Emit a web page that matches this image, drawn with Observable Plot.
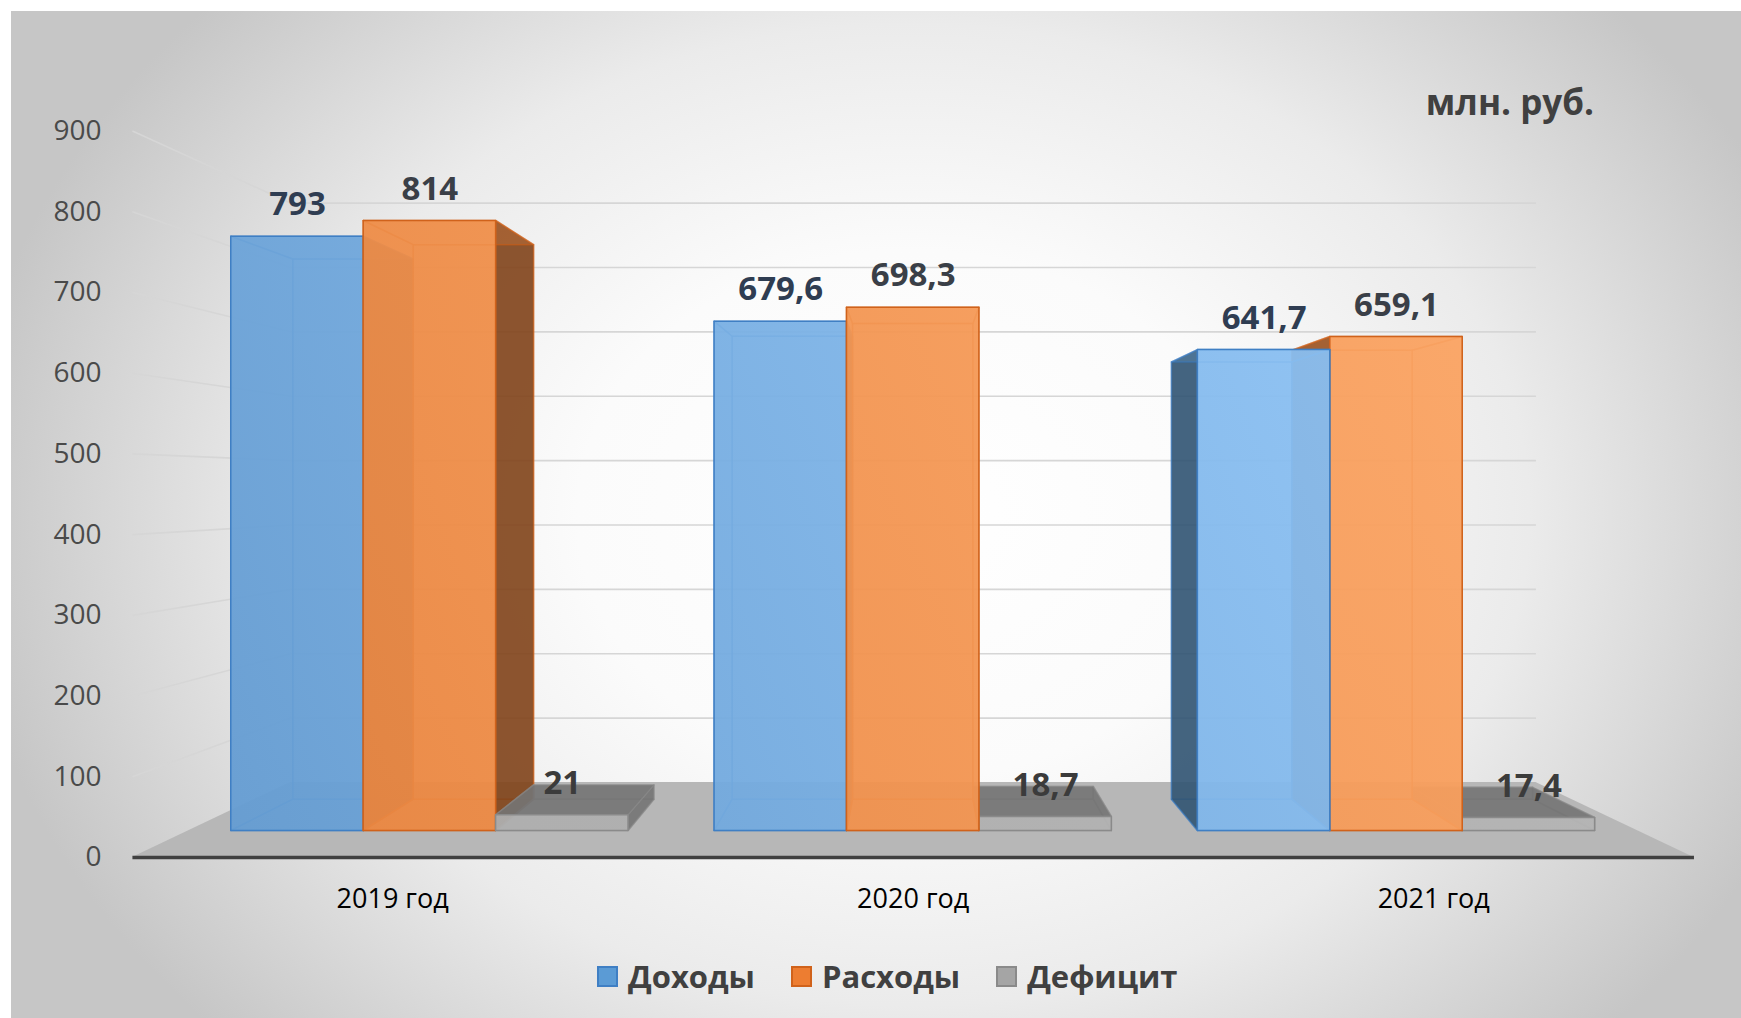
<!DOCTYPE html>
<html><head><meta charset="utf-8">
<script src="https://cdn.jsdelivr.net/npm/d3@7"></script>
<script src="https://cdn.jsdelivr.net/npm/@observablehq/plot@0.6"></script>
<style>
html,body{margin:0;padding:0;background:#fff;width:1741px;height:1018px;overflow:hidden;font-family:"Open Sans",sans-serif;}
#panel{position:absolute;left:11px;top:11px;width:1730px;height:1007px;
  background:radial-gradient(ellipse 55% 75% at 52% 50%, #ffffff 0%, #fbfbfb 35%, #ebebeb 65%, #c6c6c6 100%);}
#chart{position:absolute;left:0;top:0;}
#unit{position:absolute;right:147px;top:80px;font-weight:700;font-size:35px;line-height:44px;color:#404040;}
#legend{position:absolute;left:597px;top:954px;height:44px;display:flex;align-items:center;font-weight:700;font-size:31px;color:#404040;}
#legend .item{display:flex;align-items:center;margin-right:36px;}
#legend .sw{width:17px;height:17px;border:2px solid;margin-right:10px;}
g[aria-label="values"] text, g[aria-label="categories"] text{filter:drop-shadow(2px 2px 1.5px rgba(0,0,0,0.35));}
</style></head>
<body>
<div id="panel"></div>
<div id="chart"></div>
<div id="unit">млн. руб.</div>
<div id="legend"></div>
<script>
// ---- data ----
const years = ["2019 год", "2020 год", "2021 год"];
const series = ["Доходы", "Расходы", "Дефицит"];
const income = [793, 679.6, 641.7];
const expense = [814, 698.3, 659.1];
const deficit = [21, 18.7, 17.4];
const yTicks = [0, 100, 200, 300, 400, 500, 600, 700, 800, 900];

// ---- styles ----
const baseColor = {"Доходы": "#5b9bd5", "Расходы": "#ed7d31", "Дефицит": "#a5a5a5"};
const gradStops = {"Доходы": ["#639bd1", "#8fc4f6"], "Расходы": ["#e9833c", "#fba463"], "Дефицит": ["#adadad", "#b5b5b5"]};
const gradId = {"Доходы": "gInc", "Расходы": "gExp", "Дефицит": "gDef"};
const edgeColor = {"Доходы": "#3f7fc4", "Расходы": "#d0621b", "Дефицит": "#8a8a8a"};
const labelColor = {"Доходы": "#2f3d52", "Расходы": "#3a3f47", "Дефицит": "#3b3b3b"};

// ---- pseudo-3D projection (vanishing point, depth planes) ----
const BAR_W = 0.274;
const VP = {g: 1, v: 459.2};
const DEPTH = {axis: 1.077, back: 0.909, wall: 0.859};
const proj = (g, v, k) => [VP.g + k * (g - VP.g), VP.v + k * (v - VP.v)];

const ruFormat = d3.formatLocale({decimal: ",", thousands: " ", grouping: [3], currency: ["", ""]}).format("~f");
const values = [income, expense, deficit];

const bars = years.flatMap((year, i) => series.map((s, j) => ({
  i, j, year, series: s, value: values[j][i],
  xl: i + (j - 1.5) * BAR_W, xr: i + (j - 0.5) * BAR_W, xc: i + (j - 1) * BAR_W
})));

const rgba = (c, a) => { const o = d3.color(c); o.opacity = a; return o.formatRgb(); };

const faces = [];
function quad(id, A, B, C, D, fill, stroke) {
  faces.push({id, x1: A[0], y1: A[1], x2: B[0], y2: B[1], fill, stroke});
  faces.push({id, x1: D[0], y1: D[1], x2: C[0], y2: C[1], fill, stroke});
}
const order = [...bars].sort((a, b) => Math.abs(b.xc - VP.g) - Math.abs(a.xc - VP.g));
order.forEach((b, n) => {
  const base = baseColor[b.series], edge = edgeColor[b.series], v = b.value, kb = DEPTH.back;
  const FL0 = [b.xl, 0], FLT = [b.xl, v], FRT = [b.xr, v], FR0 = [b.xr, 0];
  const BL0 = proj(b.xl, 0, kb), BLT = proj(b.xl, v, kb), BRT = proj(b.xr, v, kb), BR0 = proj(b.xr, 0, kb);
  const inner = rgba(base, 0.25), st = rgba(edge, 0.55);
  const dark = rgba(d3.color(base).darker(b.series === "Дефицит" ? 1.0 : 1.8), 0.88);
  const leftOuter = b.xc > VP.g + 0.01, rightOuter = b.xc < VP.g - 0.01, topOuter = v < VP.v;
  quad(`b${n}`, BL0, BLT, BRT, BR0, inner, st);
  quad(`d${n}`, FL0, BL0, BR0, FR0, inner, st);
  quad(`l${n}`, FL0, FLT, BLT, BL0, leftOuter ? dark : inner, st);
  quad(`r${n}`, FR0, FRT, BRT, BR0, rightOuter ? dark : inner, st);
  quad(`t${n}`, FLT, BLT, BRT, FRT, topOuter ? dark : inner, st);
  quad(`f${n}`, FL0, FLT, FRT, FR0, `url(#${gradId[b.series]})`, rgba(edge, 1));
});

// floor, wall gridlines
const fl = proj(-0.5, 0, DEPTH.axis), fr = proj(2.5, 0, DEPTH.axis);
const bl = proj(-0.5, 0, DEPTH.wall), br = proj(2.5, 0, DEPTH.wall);
const floor = [{x1: fl[0], y1: fl[1], x2: bl[0], y2: bl[1]}, {x1: fr[0], y1: fr[1], x2: br[0], y2: br[1]}];
const grid = yTicks.filter(v => v > 0).flatMap(v => {
  const a = proj(-0.5, v, DEPTH.axis), b = proj(-0.5, v, DEPTH.wall), c = proj(2.5, v, DEPTH.wall);
  return [{x1: a[0], y1: a[1], x2: b[0], y2: b[1]}, {x1: b[0], y1: b[1], x2: c[0], y2: c[1]}];
});
const tickPos = yTicks.map(v => ({v, p: proj(-0.5, v, DEPTH.axis)}));
const catPos = years.map((y, i) => ({y, p: proj(i, 0, DEPTH.axis)}));

const chart = Plot.plot({
  width: 1741, height: 940,
  x: {domain: [0, 2], range: [429.4, 1396], axis: null},
  y: {domain: [0, 900], range: [830.5, 156], axis: null},
  color: {type: "identity"},
  style: {background: "transparent", fontFamily: "Open Sans, sans-serif", overflow: "visible"},
  marks: [
    Plot.link(grid, {x1: "x1", y1: "y1", x2: "x2", y2: "y2", stroke: "#d6d6d6", strokeWidth: 1.6}),
    Plot.area(floor, {x1: "x1", y1: "y1", x2: "x2", y2: "y2", fill: "#b7b7b7"}),
    Plot.link([0], {x1: fl[0], y1: fl[1], x2: fr[0], y2: fr[1], stroke: "#404040", strokeWidth: 3.5}),
    Plot.area(faces, {x1: "x1", y1: "y1", x2: "x2", y2: "y2", z: "id", fill: "fill", stroke: "stroke", strokeWidth: 1.5}),
    Plot.text(tickPos, {x: d => d.p[0], y: d => d.p[1], text: d => String(d.v), textAnchor: "end", dx: -31, fontSize: 28, fill: "#4a4a4a"}),
    Plot.text(catPos, {x: d => d.p[0], y: d => d.p[1], text: "y", dy: 42, fontSize: 27, fill: "#000", ariaLabel: "categories"}),
    Plot.text(bars, {x: "xc", y: "value", text: d => ruFormat(d.value), dy: -32, fontSize: 33, fontWeight: "bold", fill: d => labelColor[d.series], ariaLabel: "values"})
  ]
});

// gradient definitions for the bar front faces
const defs = d3.select(chart).insert("defs", ":first-child");
series.forEach(s => {
  const g = defs.append("linearGradient").attr("id", gradId[s]).attr("gradientUnits", "userSpaceOnUse")
    .attr("x1", 200).attr("y1", 860).attr("x2", 1450).attr("y2", 320);
  g.append("stop").attr("offset", "0").attr("stop-color", gradStops[s][0]).attr("stop-opacity", 0.93);
  g.append("stop").attr("offset", "1").attr("stop-color", gradStops[s][1]).attr("stop-opacity", 0.93);
});
document.getElementById("chart").appendChild(chart);

const legend = document.getElementById("legend");
series.forEach(s => {
  const item = document.createElement("div"); item.className = "item";
  const sw = document.createElement("div"); sw.className = "sw";
  sw.style.background = baseColor[s]; sw.style.borderColor = edgeColor[s];
  const t = document.createElement("span"); t.textContent = s;
  item.appendChild(sw); item.appendChild(t); legend.appendChild(item);
});
</script>
</body></html>
